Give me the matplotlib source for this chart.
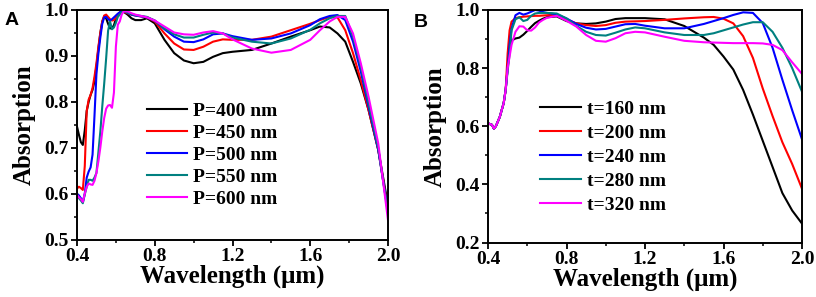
import matplotlib
matplotlib.use('Agg')
import matplotlib.pyplot as plt
from matplotlib.ticker import MultipleLocator

# panel A: period sweep
wl_a = [0.40, 0.41, 0.42, 0.43, 0.44, 0.45, 0.46, 0.47, 0.48, 0.49, 0.50, 0.51, 0.52, 0.53,
        0.54, 0.55, 0.56, 0.57, 0.58, 0.59, 0.60, 0.61, 0.62, 0.63, 0.64, 0.66, 0.68, 0.70,
        0.73, 0.76, 0.80, 0.85, 0.90, 0.95, 1.00, 1.05, 1.10, 1.15, 1.20, 1.30, 1.40, 1.50,
        1.60, 1.65, 1.70, 1.74, 1.78, 1.82, 1.86, 1.90, 1.95, 2.00]
p400 = [0.746, 0.728, 0.712, 0.706, 0.738, 0.780, 0.800, 0.815, 0.826, 0.845, 0.877, 0.915, 0.950, 0.975,
        0.986, 0.982, 0.970, 0.960, 0.960, 0.967, 0.980, 0.988, 0.994, 0.997, 0.996, 0.990, 0.982, 0.978,
        0.978, 0.982, 0.971, 0.935, 0.906, 0.890, 0.884, 0.887, 0.898, 0.906, 0.909, 0.913, 0.927, 0.942,
        0.956, 0.964, 0.962, 0.949, 0.931, 0.887, 0.840, 0.782, 0.695, 0.575]
p450 = [0.611, 0.615, 0.612, 0.608, 0.660, 0.780, 0.805, 0.815, 0.830, 0.855, 0.884, 0.920, 0.950, 0.975,
        0.988, 0.990, 0.985, 0.980, 0.977, 0.978, 0.983, 0.990, 0.995, 0.997, 0.996, 0.993, 0.990, 0.988,
        0.986, 0.984, 0.975, 0.949, 0.927, 0.914, 0.913, 0.920, 0.931, 0.936, 0.935, 0.935, 0.942, 0.956,
        0.970, 0.978, 0.985, 0.984, 0.956, 0.906, 0.847, 0.782, 0.695, 0.564]
p500 = [0.600, 0.596, 0.590, 0.582, 0.600, 0.635, 0.648, 0.657, 0.685, 0.770, 0.860, 0.905, 0.940, 0.970,
        0.984, 0.985, 0.980, 0.977, 0.980, 0.984, 0.988, 0.992, 0.995, 0.998, 0.998, 0.994, 0.990, 0.988,
        0.986, 0.984, 0.977, 0.958, 0.942, 0.931, 0.930, 0.936, 0.947, 0.949, 0.943, 0.935, 0.938, 0.949,
        0.967, 0.980, 0.987, 0.989, 0.978, 0.931, 0.866, 0.789, 0.695, 0.560]
p550 = [0.597, 0.590, 0.585, 0.579, 0.598, 0.615, 0.630, 0.630, 0.628, 0.635, 0.645, 0.690, 0.735, 0.790,
        0.840, 0.895, 0.955, 0.975, 0.958, 0.962, 0.972, 0.985, 0.990, 0.995, 0.998, 0.995, 0.991, 0.989,
        0.987, 0.985, 0.977, 0.960, 0.947, 0.940, 0.940, 0.946, 0.951, 0.949, 0.940, 0.931, 0.927, 0.938,
        0.957, 0.971, 0.982, 0.987, 0.987, 0.942, 0.877, 0.797, 0.699, 0.557]
p600 = [0.597, 0.592, 0.588, 0.582, 0.600, 0.615, 0.622, 0.620, 0.619, 0.628, 0.645, 0.670, 0.700, 0.735,
        0.765, 0.785, 0.792, 0.793, 0.787, 0.820, 0.920, 0.968, 0.975, 0.990, 0.997, 0.997, 0.993, 0.990,
        0.987, 0.984, 0.977, 0.964, 0.951, 0.947, 0.946, 0.951, 0.954, 0.949, 0.936, 0.916, 0.907, 0.913,
        0.935, 0.956, 0.975, 0.985, 0.985, 0.949, 0.884, 0.811, 0.709, 0.542]

# panel B: thickness sweep
wl_b = [0.40, 0.42, 0.43, 0.44, 0.46, 0.48, 0.49, 0.50, 0.51, 0.52, 0.54, 0.56, 0.58, 0.60,
        0.62, 0.64, 0.66, 0.68, 0.70, 0.75, 0.80, 0.85, 0.90, 0.95, 1.00, 1.05, 1.10, 1.15,
        1.20, 1.30, 1.40, 1.50, 1.55, 1.60, 1.65, 1.70, 1.75, 1.80, 1.85, 1.90, 1.95, 2.00]
t160 = [0.610, 0.605, 0.592, 0.600, 0.632, 0.680, 0.725, 0.800, 0.870, 0.895, 0.902, 0.905, 0.915, 0.928,
        0.942, 0.955, 0.963, 0.970, 0.975, 0.978, 0.962, 0.954, 0.952, 0.954, 0.960, 0.969, 0.972, 0.972,
        0.972, 0.968, 0.945, 0.905, 0.880, 0.840, 0.795, 0.725, 0.640, 0.550, 0.460, 0.370, 0.310, 0.265]
t200 = [0.610, 0.605, 0.592, 0.600, 0.632, 0.680, 0.725, 0.850, 0.930, 0.960, 0.972, 0.975, 0.977, 0.978,
        0.979, 0.980, 0.980, 0.981, 0.982, 0.984, 0.968, 0.954, 0.948, 0.945, 0.948, 0.956, 0.960, 0.961,
        0.962, 0.966, 0.971, 0.975, 0.976, 0.970, 0.954, 0.910, 0.835, 0.730, 0.635, 0.545, 0.470, 0.385]
t240 = [0.610, 0.605, 0.592, 0.600, 0.632, 0.680, 0.725, 0.800, 0.880, 0.935, 0.982, 0.990, 0.984, 0.988,
        0.994, 1.000, 0.998, 0.993, 0.990, 0.985, 0.971, 0.952, 0.939, 0.933, 0.935, 0.943, 0.951, 0.952,
        0.946, 0.937, 0.937, 0.952, 0.962, 0.972, 0.983, 0.992, 0.990, 0.955, 0.870, 0.760, 0.655, 0.555]
t280 = [0.610, 0.605, 0.592, 0.600, 0.632, 0.680, 0.725, 0.790, 0.850, 0.930, 0.968, 0.975, 0.962, 0.966,
        0.980, 0.988, 0.990, 0.990, 0.990, 0.988, 0.971, 0.945, 0.925, 0.914, 0.912, 0.922, 0.933, 0.940,
        0.937, 0.923, 0.914, 0.914, 0.920, 0.930, 0.940, 0.950, 0.958, 0.958, 0.925, 0.870, 0.800, 0.719]
t320 = [0.610, 0.605, 0.592, 0.600, 0.632, 0.680, 0.725, 0.800, 0.840, 0.880, 0.925, 0.944, 0.943, 0.930,
        0.929, 0.940, 0.957, 0.966, 0.973, 0.980, 0.963, 0.943, 0.914, 0.894, 0.891, 0.903, 0.920, 0.925,
        0.923, 0.908, 0.894, 0.889, 0.888, 0.887, 0.886, 0.886, 0.886, 0.885, 0.880, 0.862, 0.820, 0.780]

colors = ['black', '#ff0000', '#0000ff', '#008080', '#ff00ff']
labels_a = ['P=400 nm', 'P=450 nm', 'P=500 nm', 'P=550 nm', 'P=600 nm']
labels_b = ['t=160 nm', 't=200 nm', 't=240 nm', 't=280 nm', 't=320 nm']

serif = 'Liberation Serif'
sans = 'Liberation Sans'

fig = plt.figure(figsize=(8.16, 2.97), dpi=100)
axA = fig.add_axes([77/816, 1 - 239.5/297, 311/816, 229.5/297])
axB = fig.add_axes([488/816, 1 - 242.5/297, 314/816, 232.5/297])


def style(ax, ylim, ymajor, yminor):
    ax.set_xlim(0.4, 2.0)
    ax.set_ylim(*ylim)
    ax.xaxis.set_major_locator(MultipleLocator(0.4))
    ax.xaxis.set_minor_locator(MultipleLocator(0.2))
    ax.yaxis.set_major_locator(MultipleLocator(ymajor))
    ax.yaxis.set_minor_locator(MultipleLocator(yminor))
    ax.yaxis.set_major_formatter(matplotlib.ticker.FormatStrFormatter('%.1f'))
    ax.tick_params(which='major', direction='out', length=4, width=1.3, pad=2)
    ax.tick_params(which='minor', direction='out', length=2.5, width=1.1)
    for s in ax.spines.values():
        s.set_linewidth(1.4)
    for lab in ax.get_xticklabels() + ax.get_yticklabels():
        lab.set_fontfamily(serif)
        lab.set_fontweight('bold')
        lab.set_fontsize(14)
    ax.set_xlabel('Wavelength (\u03bcm)', fontfamily=serif, fontweight='bold', fontsize=18, labelpad=0)
    ax.set_ylabel('Absorption', fontfamily=serif, fontweight='bold', fontsize=18, labelpad=6)


for ys, c, lab in zip([p400, p450, p500, p550, p600], colors, labels_a):
    axA.plot(wl_a, ys, color=c, lw=1.5, label=lab)
style(axA, (0.5, 1.0), 0.1, 0.05)
axA.legend(loc='center', bbox_to_anchor=(0.434, 0.367), frameon=False,
           prop={'family': serif, 'weight': 'bold', 'size': 14},
           handlelength=2.1, handletextpad=0.3, labelspacing=0.23)

for ys, c, lab in zip([t160, t200, t240, t280, t320], colors, labels_b):
    axB.plot(wl_b, ys, color=c, lw=1.5, label=lab)
style(axB, (0.2, 1.0), 0.2, 0.1)
axB.legend(loc='center', bbox_to_anchor=(0.366, 0.366), frameon=False,
           prop={'family': serif, 'weight': 'bold', 'size': 14},
           handlelength=2.1, handletextpad=0.3, labelspacing=0.33)

fig.text(5/816, 1 - 25/297, 'A', fontfamily=sans, fontweight='bold', fontsize=14)
fig.text(414/816, 1 - 27/297, 'B', fontfamily=sans, fontweight='bold', fontsize=14)

fig.savefig('out.png', dpi=100)
